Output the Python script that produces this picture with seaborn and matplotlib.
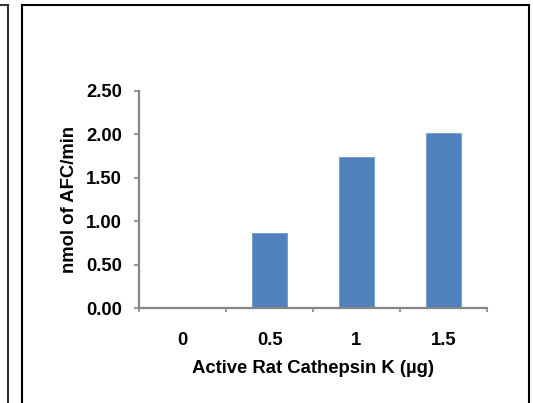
import matplotlib
matplotlib.use("Agg")
import matplotlib.pyplot as plt
from matplotlib.lines import Line2D
import seaborn as sns
import pandas as pd

categories = ["0", "0.5", "1", "1.5"]
values = [0.0, 0.87, 1.735, 2.015]
y_ticks = [0.0, 0.5, 1.0, 1.5, 2.0, 2.5]
x_label = "Active Rat Cathepsin K (µg)"
y_label = "nmol of AFC/min"

sns.set_theme(style="white")
plt.rcParams["font.family"] = ["Liberation Sans", "DejaVu Sans"]
plt.rcParams["font.weight"] = "bold"

W, H = 533, 403
fig = plt.figure(figsize=(W / 100, H / 100), dpi=100)
fig.patch.set_facecolor("white")
ax = fig.add_axes([139.3 / W, 1 - 308.3 / H, (486.7 - 139.3) / W, (308.3 - 90.7) / H])

df = pd.DataFrame({"dose": categories, "rate": values})
sns.barplot(data=df, x="dose", y="rate", order=categories, color="#4F81BD",
            saturation=1, width=0.4, ax=ax, edgecolor="#6F9AD0", linewidth=0.6)

gray = "#868686"
ax.set_xlim(-0.5, len(categories) - 0.5)
ax.set_ylim(0, 2.5)
for s in ["top", "right"]:
    ax.spines[s].set_visible(False)
for s in ["left", "bottom"]:
    ax.spines[s].set_color(gray)
    ax.spines[s].set_linewidth(1.6)

ax.set_yticks(y_ticks)
ax.set_yticklabels([f"{v:.2f}" for v in y_ticks], fontsize=13.3, fontweight="bold")
ax.tick_params(axis="y", direction="out", length=3.6, width=1.2, color=gray,
               pad=8.8, left=True, labelcolor="black")

# boundaries ticks as major, labels at centers as minor
ax.set_xticks([i - 0.5 for i in range(len(categories) + 1)])
ax.set_xticklabels([""] * (len(categories) + 1))
ax.set_xticks(range(len(categories)), minor=True)
ax.set_xticklabels(categories, minor=True, fontsize=13.3, fontweight="bold")
ax.tick_params(axis="x", which="major", direction="out", length=3, width=1.2,
               color=gray, bottom=True)
ax.tick_params(axis="x", which="minor", length=0, pad=17, labelcolor="black")

ax.set_xlabel(x_label, fontsize=13.3, fontweight="bold", labelpad=8, color="black")
ax.set_ylabel(y_label, fontsize=13.3, fontweight="bold", labelpad=5.8, color="black")
ax.grid(False)

# frame lines
def fl(x0, y0, x1, y1, c="black", lw=1.5):
    fig.add_artist(Line2D([x0 / W, x1 / W], [1 - y0 / H, 1 - y1 / H],
                          transform=fig.transFigure, color=c, linewidth=lw,
                          solid_capstyle="projecting"))

fl(22, 5, 529, 5)
fl(22, 5, 22, 410)
fl(529, 5, 529, 410)
fl(0, 5, 8, 5, c="#333333")
fl(8, 5, 8, 410, c="#333333")

fig.savefig("out.png", dpi=100, facecolor="white")
